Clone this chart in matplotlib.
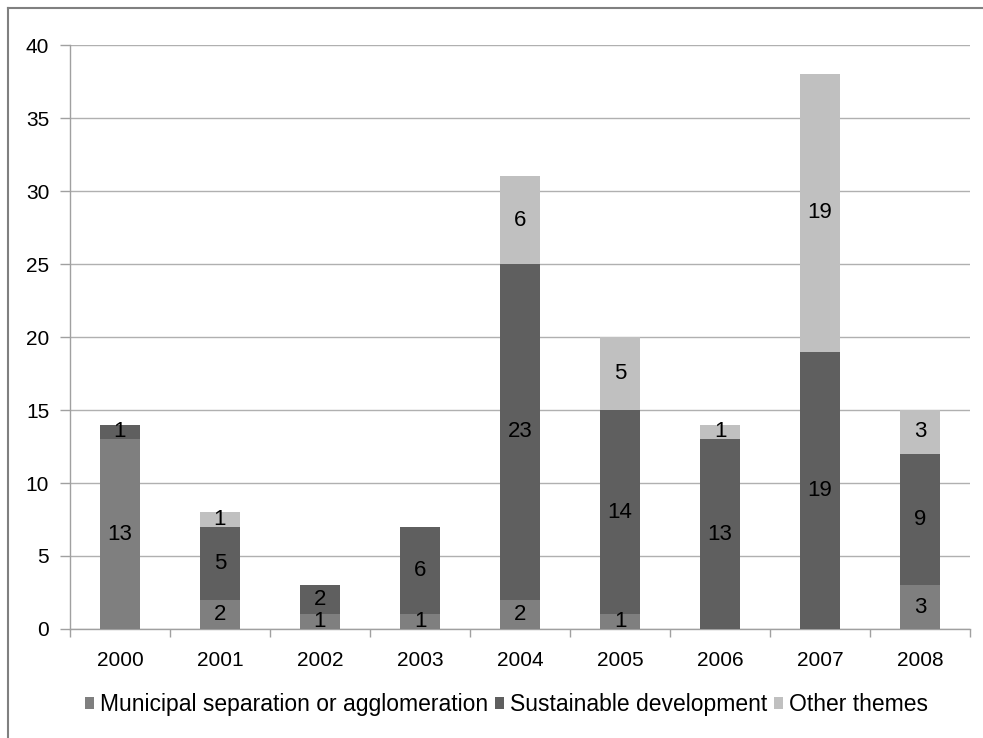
import matplotlib
matplotlib.use("Agg")
import matplotlib.pyplot as plt
from matplotlib.lines import Line2D
import numpy as np

plt.rcParams['font.family'] = ['Liberation Sans', 'DejaVu Sans']

years = ["2000", "2001", "2002", "2003", "2004", "2005", "2006", "2007", "2008"]
municipal = [13, 2, 1, 1, 2, 1, 0, 0, 3]
sustainable = [1, 5, 2, 6, 23, 14, 13, 19, 9]
other = [0, 1, 0, 0, 6, 5, 1, 19, 3]

series_names = ["Municipal separation or agglomeration", "Sustainable development", "Other themes"]
colors = ["#7f7f7f", "#5f5f5f", "#c0c0c0"]

fig = plt.figure(figsize=(9.83, 7.38), dpi=100)
ax = fig.add_axes([0.0712, 0.1477, 0.9156, 0.7913])

x = np.arange(len(years))
bottom = np.zeros(len(years))
for name, vals, col in zip(series_names, [municipal, sustainable, other], colors):
    vals = np.array(vals, dtype=float)
    ax.bar(x, vals, 0.4, bottom=bottom, color=col, label=name, zorder=3)
    for xi, v, b in zip(x, vals, bottom):
        if v > 0:
            ax.text(xi, b + v / 2, f"{int(v)}", ha="center", va="center",
                    fontsize=16, color="black", zorder=4)
    bottom += vals

ax.set_xlim(-0.5, len(years) - 0.5)
ax.set_ylim(0, 40)
ax.set_yticks(np.arange(0, 41, 5))
ax.set_xticks(x)
ax.set_xticklabels(years)
ax.set_xticks(np.arange(-0.5, len(years), 1), minor=True)
ax.tick_params(axis="x", which="major", length=0, pad=16, labelsize=15)
ax.tick_params(axis="x", which="minor", length=6, color="#a0a0a0", width=1)
ax.tick_params(axis="y", length=7, color="#a0a0a0", width=1, labelsize=15, pad=8)

ax.grid(axis="y", color="#b0b0b0", linewidth=1, zorder=0)
for s in ["top", "right"]:
    ax.spines[s].set_visible(False)
for s in ["left", "bottom"]:
    ax.spines[s].set_color("#a0a0a0")
    ax.spines[s].set_linewidth(1)

ax.legend(loc="center", bbox_to_anchor=(0.485, -0.13), ncol=3, frameon=False,
          fontsize=16.5, handlelength=0.4, handleheight=0.4, handletextpad=0.25,
          columnspacing=0.3, borderaxespad=0, borderpad=0)

# outer chart frame
fig.add_artist(Line2D([8 / 983, 8 / 983], [0, 1 - 8 / 738], transform=fig.transFigure,
                      color="#808080", linewidth=1.5))
fig.add_artist(Line2D([8 / 983, 1], [1 - 8 / 738, 1 - 8 / 738], transform=fig.transFigure,
                      color="#808080", linewidth=1.5))

fig.savefig("out.png", dpi=100)
